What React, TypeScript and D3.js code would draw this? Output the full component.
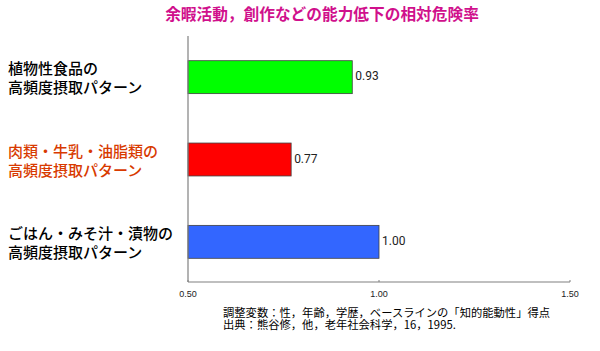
import React from 'react';
import * as d3 from 'd3';

const title = '余暇活動，創作などの能力低下の相対危険率';
const categories = ['植物性食品', '肉類・牛乳・油脂類', 'ごはん・みそ汁・漬物'];
const labelLines = [
  ['植物性食品の', '高頻度摂取パターン'],
  ['肉類・牛乳・油脂類の', '高頻度摂取パターン'],
  ['ごはん・みそ汁・漬物の', '高頻度摂取パターン'],
];
const values = [0.93, 0.77, 1.0];
const barColors = ['#00ff00', '#ff0000', '#3366ff'];
const labelColors = ['#000000', '#d83a00', '#000000'];
const ticks = [0.5, 1.0, 1.5];
const notes = [
  '調整変数：性，年齢，学歴，ベースラインの「知的能動性」得点',
  '出典：熊谷修，他，老年社会科学，16，1995.',
];

const W = 600;
const H = 351;
const FONT = '"Noto Sans CJK JP", "Noto Sans", sans-serif';

export default function App() {
  const x = d3.scaleLinear().domain([0.5, 1.5]).range([188, 570]);
  const y = d3
    .scaleBand<string>()
    .domain(categories)
    .range([36, 283])
    .paddingInner(0.6)
    .paddingOuter(0.3);
  const axisY = 282;

  return (
    <svg
      width={W}
      height={H}
      style={{ position: 'absolute', left: 0, top: 0, background: '#fff' }}
      fontFamily={FONT}
    >
      <text x={322} y={20} textAnchor="middle" fontSize={15.7} fontWeight={700} fill="#d0108c">
        {title}
      </text>

      {categories.map((c, i) => {
        const cy = (y(c) ?? 0) + y.bandwidth() / 2 + 2;
        return (
          <g key={c}>
            {labelLines[i].map((line, j) => (
              <text
                key={j}
                x={8}
                y={cy + (j === 0 ? -9 : 10)}
                dominantBaseline="middle"
                fontSize={15}
                fontWeight={500}
                fill={labelColors[i]}
              >
                {line}
              </text>
            ))}
          </g>
        );
      })}

      {categories.map((c, i) => (
        <g key={c}>
          <rect
            x={x(0.5)}
            y={y(c)}
            width={x(values[i]) - x(0.5)}
            height={y.bandwidth()}
            fill={barColors[i]}
            stroke="#404040"
            strokeWidth={0.8}
          />
          <text
            x={x(values[i]) + 3}
            y={(y(c) ?? 0) + y.bandwidth() / 2}
            dominantBaseline="middle"
            fontSize={12}
            fill="#222"
            fontFamily='"Liberation Sans Narrow", "Roboto", sans-serif'
          >
            {values[i].toFixed(2)}
          </text>
        </g>
      ))}

      <line x1={x(0.5)} x2={x(0.5)} y1={36} y2={axisY} stroke="#808080" strokeWidth={1.2} />
      <line x1={x(0.5)} x2={x(1.5)} y1={axisY} y2={axisY} stroke="#808080" strokeWidth={1.2} />
      {ticks.map((t) => (
        <g key={t}>
          <line x1={x(t)} x2={x(t)} y1={axisY} y2={axisY - 2} stroke="#808080" />
          <text
            x={x(t)}
            y={axisY + 15}
            textAnchor="middle"
            fontSize={9}
            fill="#222"
            fontFamily='"Liberation Sans", sans-serif'
          >
            {t.toFixed(2)}
          </text>
        </g>
      ))}

      {notes.map((n, i) => (
        <text key={i} x={223} y={317 + i * 12} fontSize={11.3} fill="#000">
          {n}
        </text>
      ))}
    </svg>
  );
}
